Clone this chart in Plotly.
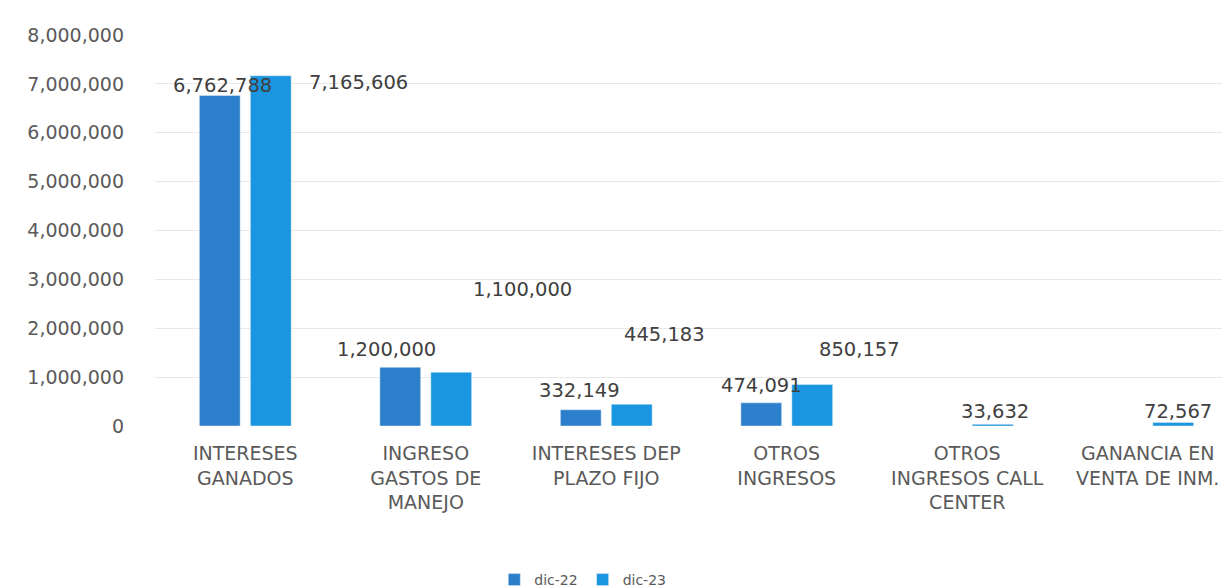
import plotly.graph_objects as go

categories = [
    "INTERESES<br>GANADOS",
    "INGRESO<br>GASTOS DE<br>MANEJO",
    "INTERESES DEP<br>PLAZO FIJO",
    "OTROS<br>INGRESOS",
    "OTROS<br>INGRESOS CALL<br>CENTER",
    "GANANCIA EN<br>VENTA DE INM.",
]
dic_22 = [6762788, 1200000, 332149, 474091, None, None]
dic_23 = [7165606, 1100000, 445183, 850157, 33632, 72567]
y_ticks = [0, 1000000, 2000000, 3000000, 4000000, 5000000, 6000000, 7000000, 8000000]

color_22 = "#2b7fcb"
color_23 = "#1a95e0"
font_name = "DejaVu Sans"

# label offsets (px) relative to each bar top, as placed in the original
shift_22 = [(3, 10), (-14, 18), (-1, 19), (0, 17), None, None]
shift_23 = [(88, -7), (71, 83), (33, 70), (47, 35), (2, 13), (5, 11)]

fig = go.Figure()
fig.add_trace(go.Bar(x=categories, y=dic_22, name="dic-22", marker_color=color_22))
fig.add_trace(go.Bar(x=categories, y=dic_23, name="dic-23", marker_color=color_23))

bar_offset = 25.5
for vals, shifts, side in [(dic_22, shift_22, -1), (dic_23, shift_23, 1)]:
    for cat, v, s in zip(categories, vals, shifts):
        if v is None or s is None:
            continue
        fig.add_annotation(
            x=cat, y=v, text=f"{v:,}", showarrow=False,
            xshift=side * bar_offset + s[0], yshift=s[1],
            yanchor="middle",
            font=dict(family=font_name, size=19.5, color="#404040"),
        )

fig.update_yaxes(
    range=[0, 8000000], tickvals=y_ticks, tickformat=",d",
    showgrid=True, gridcolor="#e8e8e8", gridwidth=1, zeroline=False,
    tickfont=dict(family=font_name, size=19, color="#5a5a5a"),
    ticklabelstandoff=30,
)
fig.update_xaxes(
    showline=False, ticks="",
    tickfont=dict(family=font_name, size=19, color="#5a5a5a"),
    ticklabelstandoff=14,
)

fig.update_layout(
    width=1230, height=588,
    margin=dict(l=147, r=0, t=27, b=166),
    paper_bgcolor="white", plot_bgcolor="white",
    barmode="group", bargap=0.435, bargroupgap=0.2,
    showlegend=True,
    legend=dict(orientation="h", x=0.395, xanchor="center", y=-0.395, yanchor="middle",
                font=dict(family=font_name, size=14, color="#5a5a5a"),
                itemwidth=30),
)

fig.write_html("out.html")
